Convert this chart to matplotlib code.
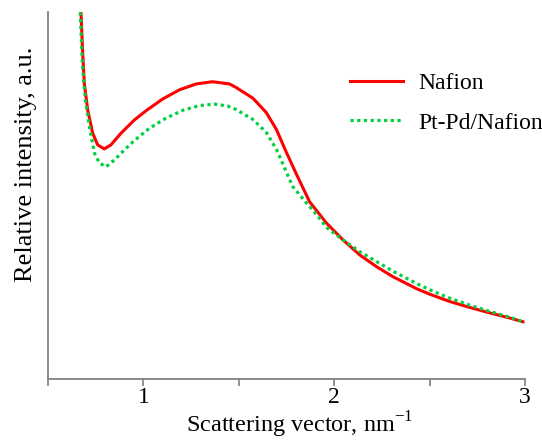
import matplotlib
matplotlib.use("Agg")
import matplotlib.pyplot as plt
from matplotlib.ticker import MultipleLocator

plt.rcParams['font.family'] = ['Liberation Serif', 'DejaVu Serif']

# values (scattering vector, nm^-1 / relative intensity, a.u.)
q_nafion = [0.662, 0.673, 0.681, 0.690, 0.708, 0.734, 0.760, 0.795, 0.830, 0.883,
            0.953, 1.014, 1.101, 1.189, 1.277, 1.362, 1.451, 1.487, 1.574, 1.644,
            1.697, 1.749, 1.802, 1.871, 1.959, 2.046, 2.134, 2.222, 2.307, 2.432,
            2.501, 2.606, 2.711, 2.816, 2.921, 2.989]
i_nafion = [10.5, 9.97, 8.96, 8.07, 7.33, 6.70, 6.38, 6.27, 6.38, 6.70,
            7.06, 7.31, 7.63, 7.88, 8.04, 8.10, 8.04, 7.94, 7.65, 7.26,
            6.80, 6.18, 5.58, 4.83, 4.25, 3.79, 3.38, 3.06, 2.79, 2.46,
            2.31, 2.11, 1.95, 1.80, 1.66, 1.56]

q_ptpd = [0.659, 0.669, 0.681, 0.696, 0.717, 0.743, 0.769, 0.804, 0.848, 0.900,
          0.953, 1.031, 1.119, 1.206, 1.294, 1.373, 1.441, 1.487, 1.574, 1.644,
          1.697, 1.740, 1.782, 1.854, 1.913, 1.959, 2.046, 2.134, 2.222, 2.307,
          2.432, 2.501, 2.606, 2.711, 2.816, 2.921, 3.000]
i_ptpd = [10.5, 9.97, 8.50, 7.60, 6.87, 6.16, 5.89, 5.78, 5.97, 6.24,
          6.50, 6.83, 7.11, 7.32, 7.45, 7.49, 7.44, 7.34, 7.07, 6.72,
          6.26, 5.75, 5.25, 4.80, 4.45, 4.13, 3.79, 3.47, 3.20, 2.94,
          2.60, 2.43, 2.20, 2.01, 1.84, 1.68, 1.54]

fig = plt.figure(figsize=(5.42, 4.41), dpi=100)
ax = fig.add_axes([0.0886, 0.1406, 0.8800, 0.8322])

ax.plot(q_nafion, i_nafion, color='#ff0000', lw=2.2, solid_joinstyle='round',
        label='Nafion')
ax.plot(q_ptpd, i_ptpd, color='#00d040', lw=2.3, ls=(0, (1, 1.1)),
        label='Pt-Pd/Nafion')

ax.set_xlim(0.5, 3.0)
ax.set_ylim(0, 10)

for side in ['top', 'right']:
    ax.spines[side].set_visible(False)
for side in ['left', 'bottom']:
    ax.spines[side].set_color('#808080')
    ax.spines[side].set_linewidth(1.3)

ax.xaxis.set_major_locator(MultipleLocator(1))
ax.xaxis.set_minor_locator(MultipleLocator(0.5))
ax.tick_params(axis='x', which='both', direction='out', length=5, width=1.2,
               color='#808080', labelsize=17, pad=1)
ax.set_yticks([])

ax.set_xlabel('Scattering vector, nm$^{\\mathregular{-1}}$', fontsize=17.5, va='bottom')
ax.xaxis.set_label_coords(0.528, -0.166)
ax.set_ylabel('Relative intensity, a.u.', fontsize=19)
ax.yaxis.set_label_coords(-0.024, 0.586)

ax.legend(loc='upper left', bbox_to_anchor=(0.6458, 0.835),
          bbox_transform=fig.transFigure, frameon=False, borderpad=0,
          borderaxespad=0, fontsize=17, handlelength=2.25, handletextpad=0.65,
          labelspacing=0.75)

fig.savefig('out.png', dpi=100)
